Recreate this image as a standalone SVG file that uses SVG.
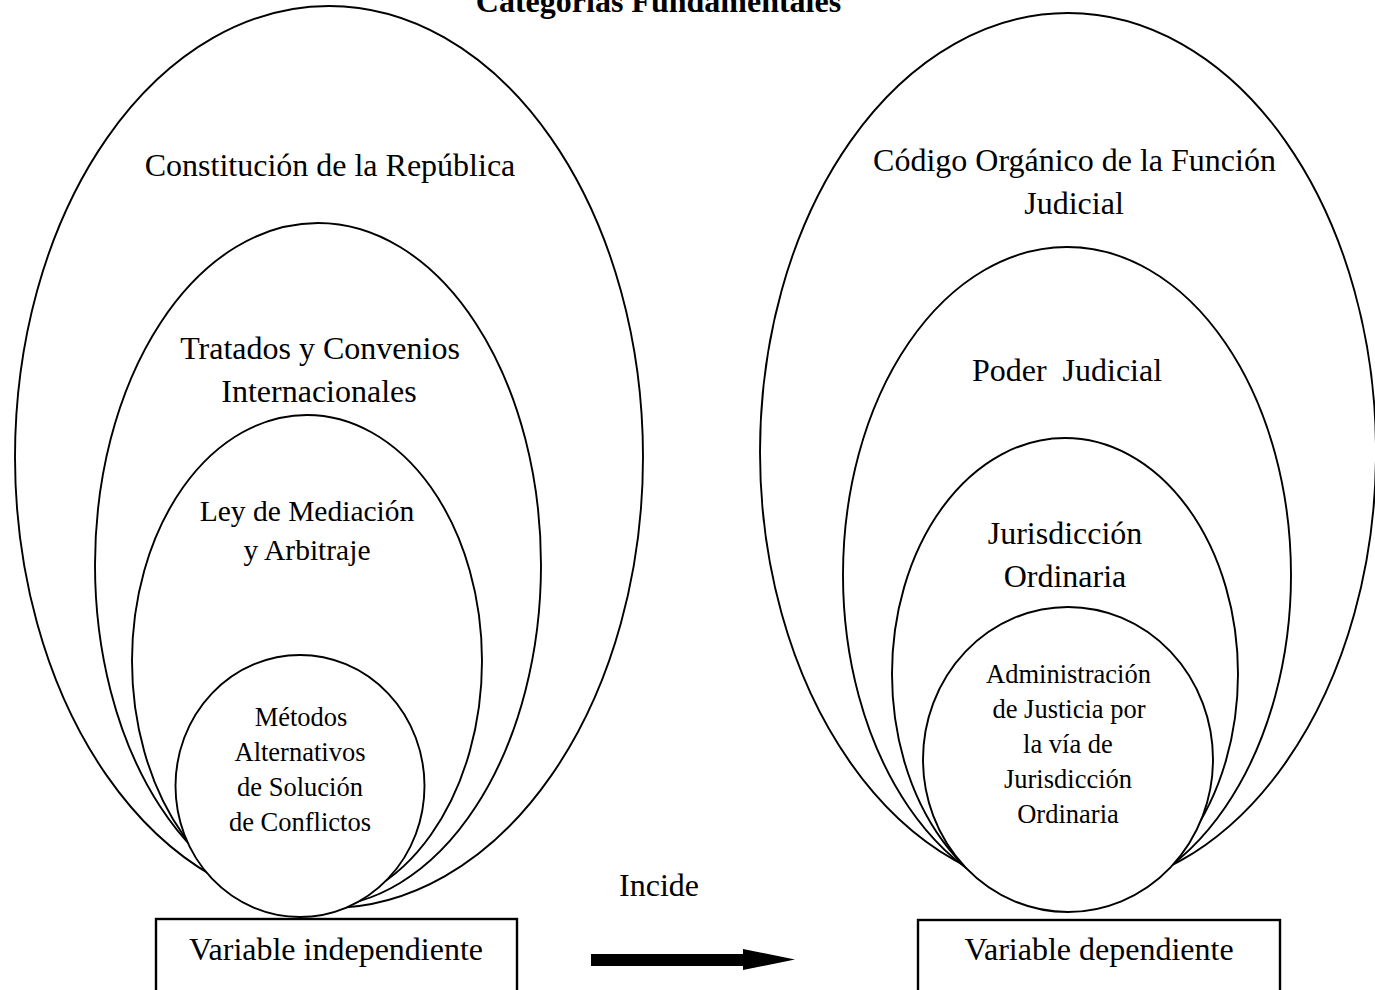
<svg xmlns="http://www.w3.org/2000/svg" width="1375" height="990" viewBox="0 0 1375 990">
<style>
.sh{fill:#fff;stroke:#000;stroke-width:1.9}
.bx{fill:#fff;stroke:#000;stroke-width:2.4}
text{font-family:"Liberation Serif","Times New Roman",serif;fill:#000;text-anchor:middle}
.l{font-size:32px}
.m{font-size:29.5px}
.s{font-size:26.5px}
.t{font-size:32px;font-weight:bold}
</style>
<rect width="1375" height="990" fill="#fff"/>
<text class="t" x="658.5" y="12">Categorías Fundamentales</text>

<g id="constitucion">
<ellipse class="sh" cx="329" cy="457" rx="314" ry="451"/>
<text class="l" x="330" y="176">Constitución de la República</text>
</g>
<g id="tratados">
<ellipse class="sh" cx="318" cy="565" rx="223" ry="342"/>
<text class="l" x="320" y="359">Tratados y Convenios</text>
<text class="l" x="319" y="402">Internacionales</text>
</g>
<g id="ley">
<ellipse class="sh" cx="307" cy="661" rx="175" ry="246"/>
<text class="m" x="307" y="521">Ley de Mediación</text>
<text class="m" x="307" y="560">y Arbitraje</text>
</g>
<g id="metodos">
<ellipse class="sh" cx="300" cy="786" rx="124.5" ry="131"/>
<text class="s" x="301" y="726">Métodos</text>
<text class="s" x="300" y="761">Alternativos</text>
<text class="s" x="300" y="796">de Solución</text>
<text class="s" x="300" y="831">de Conflictos</text>
</g>

<g id="codigo">
<ellipse class="sh" cx="1068" cy="452" rx="308" ry="439"/>
<text class="l" x="1074.5" y="171">Código Orgánico de la Función</text>
<text class="l" x="1074" y="214">Judicial</text>
</g>
<g id="poder">
<ellipse class="sh" cx="1067" cy="575" rx="224" ry="328"/>
<text class="l" x="1067" y="381" xml:space="preserve">Poder  Judicial</text>
</g>
<g id="jurisdiccion">
<ellipse class="sh" cx="1065" cy="674" rx="173" ry="236"/>
<text class="l" x="1065" y="544">Jurisdicción</text>
<text class="l" x="1065" y="587">Ordinaria</text>
</g>
<g id="administracion">
<ellipse class="sh" cx="1068" cy="759.5" rx="145" ry="152.5"/>
<text class="s" x="1068.5" y="683">Administración</text>
<text class="s" x="1069" y="718">de Justicia por</text>
<text class="s" x="1068" y="753">la vía de</text>
<text class="s" x="1068" y="788">Jurisdicción</text>
<text class="s" x="1068" y="823">Ordinaria</text>
</g>

<g id="var-independiente">
<rect class="bx" x="156" y="919" width="361" height="90"/>
<text class="l" x="336" y="960">Variable independiente</text>
</g>
<g id="var-dependiente">
<rect class="bx" x="918" y="920" width="362" height="90"/>
<text class="l" x="1099" y="960">Variable dependiente</text>
</g>

<g id="connectors">
<polygon points="591,954 743,954 743,949 795,959.5 743,970 743,966 591,966" fill="#000"/>
<text class="l" x="659" y="896">Incide</text>
</g>
</svg>
